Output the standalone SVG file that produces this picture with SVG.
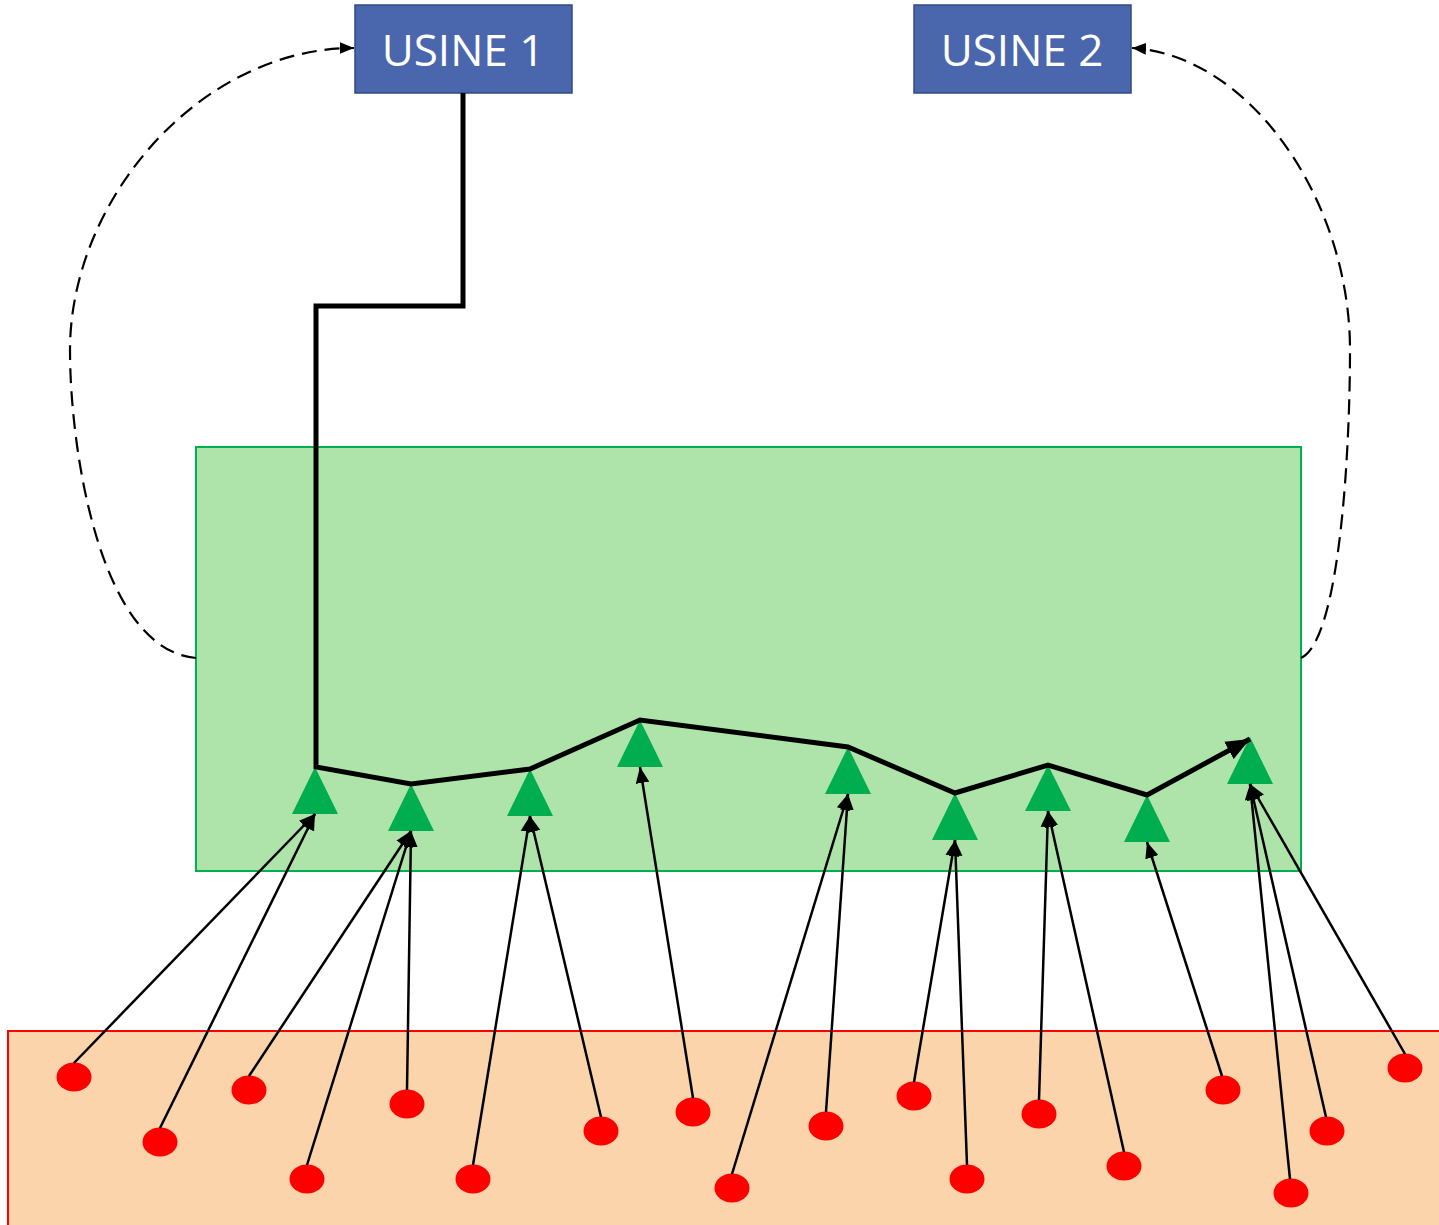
<svg xmlns="http://www.w3.org/2000/svg" width="1439" height="1225" viewBox="0 0 1439 1225">
<style>
.usine{fill:#4A66AC;stroke:#2F4B85;stroke-width:1.5}
.lbl{font-family:"Open Sans","DejaVu Sans",sans-serif;font-size:44px;fill:#fff;text-anchor:middle}
.tri{fill:#00AD4F}
.src{fill:#FF0000}
.thin{stroke:#000;stroke-width:2.5;fill:none;marker-end:url(#ah)}
.dash{stroke:#000;stroke-width:2.2;fill:none;stroke-dasharray:15 8;marker-end:url(#ahd)}
</style>
<defs>
<marker id="ah" markerUnits="userSpaceOnUse" markerWidth="16" markerHeight="14" refX="14" refY="6" orient="auto" viewBox="0 0 14 12"><path d="M0,0 L14,6 L0,12 z" fill="#000"/></marker>
<marker id="ahd" markerUnits="userSpaceOnUse" markerWidth="14" markerHeight="12" refX="12" refY="5" orient="auto" viewBox="0 0 12 10"><path d="M0,0 L12,5 L0,10 z" fill="#000"/></marker>
<marker id="ahk" markerUnits="userSpaceOnUse" markerWidth="24" markerHeight="20" refX="22" refY="9" orient="auto" viewBox="0 0 22 18"><path d="M0,0 L22,9 L0,18 z" fill="#000"/></marker>
</defs>
<rect id="zone" x="196" y="447" width="1105" height="424" fill="#AEE4A9" stroke="#00B050" stroke-width="2"/>
<rect id="sources" x="8" y="1031" width="1440" height="200" fill="#FBD4AC" stroke="#FF0000" stroke-width="2"/>
<g id="usine1"><rect class="usine" x="355" y="5" width="217" height="88"/><text class="lbl" x="463" y="66">USINE 1</text></g>
<g id="usine2"><rect class="usine" x="914" y="5" width="217" height="88"/><text class="lbl" x="1022" y="66">USINE 2</text></g>
<g id="triangles">
<polygon id="t1" class="tri" points="315,767 338,814 292,814"/>
<polygon id="t2" class="tri" points="411,784 434,831 388,831"/>
<polygon id="t3" class="tri" points="530,769 553,816 507,816"/>
<polygon id="t4" class="tri" points="640,720 663,767 617,767"/>
<polygon id="t5" class="tri" points="848,747 871,794 825,794"/>
<polygon id="t6" class="tri" points="955,793 978,840 932,840"/>
<polygon id="t7" class="tri" points="1048,765 1071,811 1025,811"/>
<polygon id="t8" class="tri" points="1147,795 1170,842 1124,842"/>
<polygon id="t9" class="tri" points="1250,737 1273,784 1227,784"/>
</g>
<g id="points">
<ellipse class="src" cx="74" cy="1077" rx="17.5" ry="14.5"/>
<ellipse class="src" cx="160" cy="1142" rx="17.5" ry="14.5"/>
<ellipse class="src" cx="249" cy="1090" rx="17.5" ry="14.5"/>
<ellipse class="src" cx="307" cy="1179" rx="17.5" ry="14.5"/>
<ellipse class="src" cx="407" cy="1104" rx="17.5" ry="14.5"/>
<ellipse class="src" cx="473" cy="1179" rx="17.5" ry="14.5"/>
<ellipse class="src" cx="601" cy="1131" rx="17.5" ry="14.5"/>
<ellipse class="src" cx="693" cy="1112" rx="17.5" ry="14.5"/>
<ellipse class="src" cx="732" cy="1188" rx="17.5" ry="14.5"/>
<ellipse class="src" cx="826" cy="1126" rx="17.5" ry="14.5"/>
<ellipse class="src" cx="914" cy="1096" rx="17.5" ry="14.5"/>
<ellipse class="src" cx="967" cy="1179" rx="17.5" ry="14.5"/>
<ellipse class="src" cx="1039" cy="1114" rx="17.5" ry="14.5"/>
<ellipse class="src" cx="1124" cy="1166" rx="17.5" ry="14.5"/>
<ellipse class="src" cx="1223" cy="1090" rx="17.5" ry="14.5"/>
<ellipse class="src" cx="1291" cy="1193" rx="17.5" ry="14.5"/>
<ellipse class="src" cx="1327" cy="1131" rx="17.5" ry="14.5"/>
<ellipse class="src" cx="1405" cy="1068" rx="17.5" ry="14.5"/>
</g>
<g id="connectors">
<path d="M463,93 V306 H316 V767 L411,784 L530,769 L640,720 L848,747 L955,793 L1048,765 L1147,795 L1250,739" stroke="#000" stroke-width="5" fill="none" stroke-linejoin="miter" marker-end="url(#ahk)"/>
<path class="dash" d="M196,658 C100,650 70,450 70,350 C70,200 200,48 354,48"/>
<path class="dash" d="M1301,658 C1340,640 1350,450 1350,350 C1350,200 1250,55 1132,48"/>
<line class="thin" x1="74" y1="1063" x2="315" y2="814"/>
<line class="thin" x1="160" y1="1128" x2="315" y2="814"/>
<line class="thin" x1="249" y1="1076" x2="411" y2="831"/>
<line class="thin" x1="307" y1="1165" x2="411" y2="831"/>
<line class="thin" x1="407" y1="1090" x2="411" y2="831"/>
<line class="thin" x1="473" y1="1165" x2="530" y2="816"/>
<line class="thin" x1="601" y1="1117" x2="530" y2="816"/>
<line class="thin" x1="693" y1="1098" x2="640" y2="767"/>
<line class="thin" x1="732" y1="1174" x2="848" y2="794"/>
<line class="thin" x1="826" y1="1112" x2="848" y2="794"/>
<line class="thin" x1="914" y1="1082" x2="955" y2="840"/>
<line class="thin" x1="967" y1="1165" x2="955" y2="840"/>
<line class="thin" x1="1039" y1="1100" x2="1048" y2="811"/>
<line class="thin" x1="1124" y1="1152" x2="1048" y2="811"/>
<line class="thin" x1="1222" y1="1076" x2="1147" y2="842"/>
<line class="thin" x1="1290" y1="1179" x2="1250" y2="784"/>
<line class="thin" x1="1326" y1="1117" x2="1250" y2="784"/>
<line class="thin" x1="1405" y1="1054" x2="1250" y2="784"/>
</g>
</svg>
